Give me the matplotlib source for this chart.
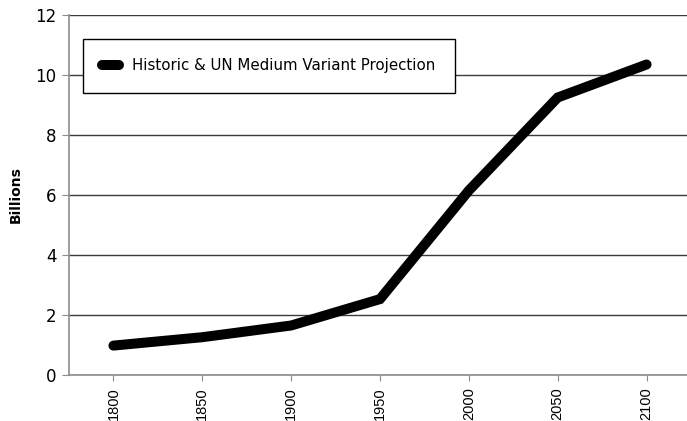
import matplotlib
matplotlib.use("Agg")
import matplotlib.pyplot as plt

# Data
YEARS      = ["1800", "1850", "1900", "1950", "2000", "2050", "2100"]
POPULATION = [0.98, 1.26, 1.65, 2.53, 6.15, 9.25, 10.35]
Y_TICKS    = [0, 2, 4, 6, 8, 10, 12]
SERIES_LABEL = "Historic & UN Medium Variant Projection"

fig = plt.figure(figsize=(6.87, 4.21), dpi=100)
ax = fig.add_axes([69 / 687, 46 / 421, 622 / 687, 360 / 421])

x = range(len(YEARS))
ax.plot(x, POPULATION, color="black", linewidth=7.2,
        solid_capstyle="round", solid_joinstyle="miter", label=SERIES_LABEL, zorder=3)

ax.set_xlim(-0.5, len(YEARS) - 0.5)
ax.set_ylim(0, 12)
ax.set_yticks(Y_TICKS)
ax.set_xticks(list(x))
ax.set_xticklabels(YEARS, rotation=90, family="Liberation Sans", fontsize=10.5)
ax.tick_params(axis="y", labelsize=12, length=5, color="#8c8c8c", pad=4)
ax.tick_params(axis="x", length=4, color="#8c8c8c", pad=5)

ax.grid(axis="y", color="#3c3c3c", linewidth=1.0, zorder=1)
for s in ["top", "right"]:
    ax.spines[s].set_visible(False)
for s in ["left", "bottom"]:
    ax.spines[s].set_color("#8c8c8c")
    ax.spines[s].set_linewidth(1.2)

ax.set_ylabel("Billions", fontsize=10, fontweight="bold", labelpad=9)

leg = ax.legend(loc="upper left", bbox_to_anchor=(0.0225, 0.934),
                fancybox=False, edgecolor="black", framealpha=1,
                fontsize=10.8, handlelength=1.1, borderpad=1.3,
                handletextpad=0.9, borderaxespad=0)
leg.get_frame().set_linewidth(1.0)
for h in leg.get_lines():
    h.set_linewidth(7.2)
    h.set_solid_capstyle("round")

fig.savefig("out.png", dpi=100)
